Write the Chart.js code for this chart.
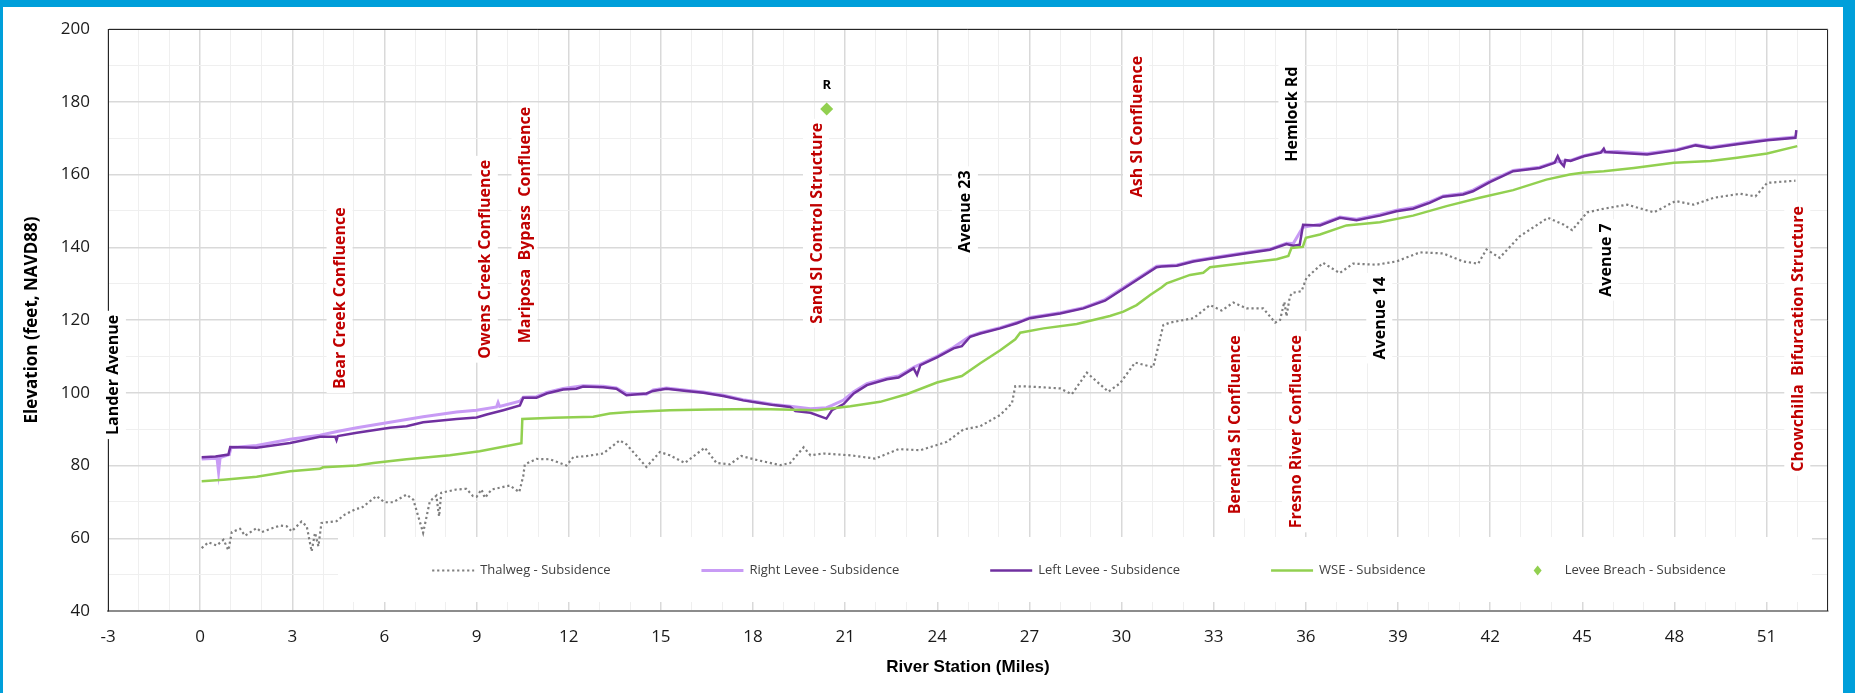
<!DOCTYPE html>
<html>
<head>
<meta charset="utf-8">
<script src="https://cdn.jsdelivr.net/npm/chart.js@4.4.1/dist/chart.umd.min.js"></script>
<style>
  html, body { margin: 0; padding: 0; background: #fff; }
  #wrap { width: 1855px; height: 693px; }
</style>
</head>
<body>
<div id="wrap"><canvas id="profile" width="1855" height="693"></canvas></div>
<script>
// river profile, stations in miles, elevations in feet NAVD88
const thalwegMiles = [0.05, 0.27, 0.54, 0.76, 0.92, 1.03, 1.3, 1.46, 1.84, 2.0, 2.6, 2.82, 2.98, 3.3, 3.47, 3.63, 3.74, 3.85, 3.95, 4.44, 4.71, 5.09, 5.25, 5.74, 6.0, 6.28, 6.72, 6.94, 7.26, 7.48, 7.69, 7.78, 7.85, 8.34, 8.67, 8.88, 9.0, 9.16, 9.27, 9.49, 10.08, 10.39, 10.52, 10.57, 10.95, 11.39, 11.93, 12.15, 12.58, 13.12, 13.66, 13.88, 14.53, 14.97, 15.29, 15.78, 16.43, 16.81, 17.24, 17.62, 18.13, 18.89, 19.21, 19.65, 19.87, 20.3, 21.17, 21.98, 22.74, 23.45, 24.31, 24.85, 25.4, 26.05, 26.43, 26.54, 27.02, 28.0, 28.38, 28.87, 29.57, 29.95, 30.44, 31.03, 31.36, 31.58, 32.34, 32.88, 33.26, 33.64, 34.07, 34.61, 35.0, 35.16, 35.3, 35.37, 35.48, 35.57, 35.86, 36.02, 36.56, 37.1, 37.54, 38.3, 38.95, 39.71, 40.47, 41.12, 41.61, 41.88, 42.31, 42.96, 43.88, 44.4, 44.67, 45.16, 45.7, 46.46, 47.33, 48.04, 48.63, 49.28, 50.15, 50.64, 51.02, 51.94];
const thalwegElev = [57.3, 58.9, 58.0, 59.6, 56.7, 61.7, 62.6, 60.7, 62.8, 61.7, 63.5, 63.3, 61.9, 64.6, 63.3, 56.4, 61.5, 57.8, 64.2, 64.7, 66.5, 68.1, 68.3, 71.6, 69.9, 69.9, 72.0, 70.6, 61.5, 70.2, 71.7, 66.0, 72.5, 73.4, 73.6, 71.6, 71.4, 73.4, 71.1, 73.4, 74.5, 72.7, 77.1, 80.3, 81.8, 81.7, 80.0, 82.3, 82.6, 83.3, 86.9, 85.8, 79.6, 83.7, 82.8, 80.7, 84.9, 80.7, 80.3, 82.6, 81.5, 80.1, 80.7, 85.0, 82.8, 83.3, 82.8, 81.9, 84.5, 84.2, 86.5, 89.9, 90.8, 93.9, 97.1, 101.8, 101.7, 101.2, 99.6, 105.5, 100.3, 102.6, 108.3, 107.0, 118.6, 119.3, 120.5, 124.1, 122.6, 124.8, 123.2, 123.2, 119.3, 120.0, 125.0, 121.0, 126.5, 127.5, 127.9, 131.6, 135.7, 132.9, 135.5, 135.2, 136.1, 138.6, 138.3, 136.1, 135.5, 139.4, 137.1, 143.0, 148.1, 146.2, 144.7, 149.6, 150.6, 151.7, 149.6, 152.7, 151.7, 153.6, 154.7, 154.0, 157.7, 158.3];

const rightLeveeMiles = [0.05, 0.55, 0.6, 0.65, 0.95, 1.0, 1.84, 2.93, 3.9, 4.5, 5.1, 6.18, 7.26, 8.35, 9.0, 9.65, 9.7, 9.75, 10.41, 10.52, 10.95, 11.28, 11.82, 12.47, 13.12, 13.55, 13.88, 14.53, 14.75, 15.18, 15.83, 16.38, 17.03, 17.68, 18.22, 18.67, 19.21, 19.87, 20.39, 20.57, 20.95, 21.28, 21.71, 22.36, 22.74, 23.23, 23.99, 24.53, 25.07, 25.4, 26.05, 26.59, 27.02, 28.0, 28.76, 29.46, 31.14, 31.8, 32.34, 33.0, 33.96, 34.83, 35.37, 35.59, 35.9, 36.46, 37.11, 37.65, 38.41, 38.95, 39.49, 40.03, 40.47, 41.12, 41.44, 41.99, 42.75, 43.61, 44.1, 44.62, 45.05, 45.6, 46.14, 47.11, 48.09, 48.69, 49.18, 50.04, 51.02, 51.94];
const rightLeveeElev = [81.8, 82.0, 78.2, 82.2, 83.0, 84.9, 85.5, 87.2, 88.3, 89.4, 90.4, 91.9, 93.4, 94.7, 95.2, 96.1, 97.3, 96.2, 97.7, 98.8, 98.9, 100.1, 101.2, 101.9, 101.8, 101.3, 99.8, 99.6, 100.8, 101.3, 100.7, 100.2, 99.3, 98.1, 97.4, 96.8, 96.3, 95.6, 95.9, 96.5, 98.0, 100.3, 102.5, 104.0, 104.6, 107.0, 110.0, 112.5, 115.6, 116.5, 117.9, 119.3, 120.7, 122.0, 123.4, 125.6, 134.8, 135.1, 136.3, 137.2, 138.4, 139.5, 141.1, 141.0, 145.5, 146.3, 148.3, 147.7, 149.0, 150.2, 150.9, 152.5, 154.1, 154.8, 155.7, 158.2, 161.1, 162.0, 163.4, 163.9, 165.2, 166.2, 166.3, 165.8, 166.9, 168.2, 167.5, 168.5, 169.6, 170.3];

const leftLeveeMiles = [0.05, 0.5, 0.92, 0.98, 1.84, 2.93, 3.9, 4.4, 4.44, 4.48, 5.1, 6.18, 6.72, 7.26, 8.35, 9.0, 9.33, 9.87, 10.41, 10.52, 10.95, 11.28, 11.82, 12.25, 12.47, 13.12, 13.55, 13.88, 14.53, 14.75, 15.18, 15.83, 16.38, 17.03, 17.68, 18.22, 18.67, 19.21, 19.38, 19.87, 20.39, 20.57, 20.95, 21.28, 21.71, 22.36, 22.74, 23.23, 23.34, 23.45, 23.99, 24.53, 24.8, 25.07, 25.4, 26.05, 26.59, 27.02, 28.0, 28.76, 29.46, 31.14, 31.3, 31.8, 32.34, 33.0, 33.96, 34.83, 35.37, 35.59, 35.8, 35.91, 36.46, 37.11, 37.65, 38.41, 38.95, 39.49, 40.03, 40.47, 41.12, 41.44, 41.99, 42.75, 43.61, 44.1, 44.2, 44.3, 44.4, 44.45, 44.62, 45.05, 45.6, 45.7, 45.75, 46.14, 47.11, 48.09, 48.69, 49.18, 50.04, 51.02, 51.94, 51.97];
const leftLeveeElev = [82.3, 82.5, 83.0, 85.1, 84.9, 86.2, 87.9, 87.9, 87.0, 88.1, 89.0, 90.4, 90.8, 91.9, 92.8, 93.2, 94.0, 95.2, 96.5, 98.6, 98.6, 99.8, 100.9, 101.1, 101.7, 101.5, 101.1, 99.3, 99.8, 100.5, 101.1, 100.5, 100.0, 99.1, 97.9, 97.2, 96.6, 96.1, 95.0, 94.5, 92.9, 95.2, 96.9, 99.8, 102.1, 103.7, 104.2, 106.7, 104.9, 107.6, 109.7, 112.2, 112.8, 115.4, 116.3, 117.7, 119.1, 120.5, 121.8, 123.2, 125.3, 134.5, 134.7, 134.9, 136.1, 137.0, 138.2, 139.3, 140.9, 140.4, 140.7, 146.2, 146.0, 148.1, 147.4, 148.7, 149.9, 150.6, 152.2, 153.9, 154.5, 155.4, 157.9, 160.9, 161.8, 163.2, 165.0, 163.2, 162.3, 164.0, 163.7, 165.0, 166.0, 167.1, 166.2, 166.0, 165.5, 166.7, 168.0, 167.3, 168.3, 169.4, 170.1, 172.2];

const wseMiles = [0.05, 0.76, 1.84, 2.93, 3.9, 4.0, 5.1, 5.64, 6.72, 8.13, 9.1, 10.46, 10.49, 11.5, 12.8, 13.34, 14.0, 15.29, 16.6, 18.2, 19.32, 20.08, 21.17, 22.14, 23.0, 23.99, 24.8, 25.4, 26.05, 26.54, 26.7, 27.46, 28.54, 29.62, 30.06, 30.49, 30.93, 31.31, 31.47, 32.23, 32.66, 32.88, 33.96, 35.05, 35.43, 35.53, 35.9, 36.0, 36.46, 37.32, 38.41, 39.49, 40.58, 41.66, 42.75, 43.83, 44.59, 45.0, 45.7, 46.68, 47.98, 49.18, 50.04, 51.02, 52.0];
const wseElev = [75.7, 76.1, 76.9, 78.4, 79.1, 79.5, 80.0, 80.7, 81.7, 82.8, 83.9, 86.1, 92.8, 93.1, 93.4, 94.3, 94.7, 95.2, 95.4, 95.5, 95.3, 95.2, 96.3, 97.5, 99.6, 102.8, 104.6, 108.1, 111.7, 114.7, 116.5, 117.7, 118.9, 121.1, 122.3, 124.1, 126.9, 129.0, 130.1, 132.4, 133.0, 134.5, 135.6, 136.7, 137.6, 139.8, 140.1, 142.6, 143.5, 146.0, 146.9, 148.7, 151.3, 153.6, 155.7, 158.6, 160.0, 160.5, 160.9, 161.8, 163.2, 163.7, 164.6, 165.8, 167.8];

const breachMiles = [20.4];
const breachElev = [178];
const breachTags = ['R'];

// landmarks along the river; elevation is where the label is centred
const landmarkNames = ['Lander Avenue', 'Bear Creek Confluence', 'Owens Creek Confluence', 'Mariposa  Bypass  Confluence', 'Sand Sl Control Structure', 'Avenue 23', 'Ash Sl Confluence', 'Hemlock Rd', 'Berenda Sl Confluence', 'Fresno River Confluence', 'Avenue 14', 'Avenue 7', 'Chowchilla  Bifurcation Structure'];
const landmarkMiles = [-2.84, 4.54, 9.27, 10.56, 20.05, 24.9, 30.47, 35.53, 33.67, 35.65, 38.39, 45.75, 52.0];
const landmarkElev = [104.9, 126.0, 136.7, 146.1, 146.6, 149.8, 173.2, 176.6, 91.2, 89.3, 120.5, 136.5, 114.8];
const landmarkIsRoad = [true, false, false, false, false, true, false, true, false, false, true, true, false];

const xTicksEvery = 3;
const yTicksEvery = 20;

function pts(xs, ys) {
    return xs.map((x, i) => ({ x: x, y: ys[i] }));
}

const frameBlue = '#009FDA';

const framePlugin = {
    id: 'frame',
    beforeDraw(chart) {
        const ctx = chart.ctx;
        ctx.save();
        ctx.fillStyle = '#fff';
        ctx.fillRect(0, 0, chart.width, chart.height);
        ctx.fillStyle = frameBlue;
        ctx.fillRect(0, 0, chart.width, 7);
        ctx.fillRect(0, 0, 3, chart.height);
        ctx.fillRect(chart.width - 12, 0, 12, chart.height);
        ctx.restore();
    },
    beforeDatasetsDraw(chart) {
        const ctx = chart.ctx;
        const a = chart.chartArea;
        ctx.save();
        ctx.strokeStyle = '#262626';
        ctx.lineWidth = 1;
        ctx.beginPath();
        ctx.moveTo(a.left, a.top + 0.5);
        ctx.lineTo(a.right - 0.5, a.top + 0.5);
        ctx.lineTo(a.right - 0.5, a.bottom);
        ctx.stroke();

        // landmark labels, rotated, on white boxes
        const xs = chart.scales.x, ys = chart.scales.y;
        ctx.font = 'bold 16px "Open Sans"';
        ctx.textAlign = 'center';
        ctx.textBaseline = 'middle';
        landmarkNames.forEach((name, i) => {
            const px = xs.getPixelForValue(landmarkMiles[i]);
            const py = ys.getPixelForValue(landmarkElev[i]);
            const w = ctx.measureText(name).width;
            ctx.save();
            ctx.translate(px, py);
            ctx.rotate(-Math.PI / 2);
            ctx.fillStyle = '#fff';
            ctx.fillRect(-w / 2 - 4, -13, w + 8, 26);
            ctx.fillStyle = landmarkIsRoad[i] ? '#000' : '#C00000';
            ctx.fillText(name, 0, 1);
            ctx.restore();
        });
        ctx.restore();
    },
    afterDatasetsDraw(chart) {
        const ctx = chart.ctx;
        const a = chart.chartArea;
        ctx.save();

        // breach tag
        const bm = chart.getDatasetMeta(4);
        ctx.font = 'bold 13px "Open Sans"';
        ctx.fillStyle = '#000';
        ctx.textAlign = 'center';
        ctx.textBaseline = 'middle';
        bm.data.forEach((p, i) => ctx.fillText(breachTags[i], p.x, p.y - 24));

        // legend inside the plot area
        const boxL = a.left + 230, boxR = a.right - 16;
        const boxT = a.bottom - 74, boxB = a.bottom - 9;
        ctx.fillStyle = '#fff';
        ctx.fillRect(boxL, boxT, boxR - boxL, boxB - boxT);
        ctx.font = '13px "Open Sans"';
        const sym = 42, gap = 6, spacing = 91;
        const sets = chart.data.datasets;
        const widths = sets.map(d => sym + gap + ctx.measureText(d.label).width);
        const total = widths.reduce((s, w) => s + w, 0) + spacing * (sets.length - 1);
        let x = (boxL + boxR) / 2 - total / 2 + 4;
        const cy = (boxT + boxB) / 2 + 1;
        sets.forEach((d, i) => {
            ctx.save();
            if (d.showLine) {
                ctx.strokeStyle = d.borderColor;
                ctx.lineWidth = d.borderWidth;
                ctx.setLineDash(d.borderDash || []);
                ctx.beginPath();
                ctx.moveTo(x, cy);
                ctx.lineTo(x + sym, cy);
                ctx.stroke();
            } else {
                ctx.fillStyle = d.backgroundColor;
                ctx.beginPath();
                ctx.moveTo(x + sym / 2, cy - 5);
                ctx.lineTo(x + sym / 2 + 4, cy);
                ctx.lineTo(x + sym / 2, cy + 5);
                ctx.lineTo(x + sym / 2 - 4, cy);
                ctx.closePath();
                ctx.fill();
            }
            ctx.restore();
            ctx.fillStyle = '#404040';
            ctx.textAlign = 'left';
            ctx.textBaseline = 'middle';
            ctx.fillText(d.label, x + sym + gap, cy);
            x += widths[i] + spacing;
        });
        ctx.restore();
    }
};

const majorGrid = '#D9D9D9';
const minorGrid = '#EFEFEF';

new Chart(document.getElementById('profile'), {
    type: 'scatter',
    data: {
        datasets: [
            {
                label: 'Thalweg - Subsidence',
                data: pts(thalwegMiles, thalwegElev),
                showLine: true,
                borderColor: '#7F7F7F',
                borderWidth: 2.2,
                borderDash: [2.2, 2.8],
                pointRadius: 0,
                order: 5
            },
            {
                label: 'Right Levee - Subsidence',
                data: pts(rightLeveeMiles, rightLeveeElev),
                showLine: true,
                borderColor: '#C89BF5',
                borderWidth: 3,
                pointRadius: 0,
                order: 4
            },
            {
                label: 'Left Levee - Subsidence',
                data: pts(leftLeveeMiles, leftLeveeElev),
                showLine: true,
                borderColor: '#7030A0',
                borderWidth: 2.5,
                pointRadius: 0,
                order: 3
            },
            {
                label: 'WSE - Subsidence',
                data: pts(wseMiles, wseElev),
                showLine: true,
                borderColor: '#92D050',
                borderWidth: 2.5,
                pointRadius: 0,
                order: 2
            },
            {
                label: 'Levee Breach - Subsidence',
                data: pts(breachMiles, breachElev),
                showLine: false,
                pointStyle: 'rectRot',
                pointRadius: 6.5,
                backgroundColor: '#92D050',
                borderColor: '#92D050',
                borderWidth: 0,
                order: 1
            }
        ]
    },
    options: {
        responsive: false,
        animation: false,
        devicePixelRatio: 1,
        layout: { padding: { top: 29, right: 27, bottom: 0, left: 0 } },
        plugins: {
            legend: { display: false },
            tooltip: { enabled: false }
        },
        scales: {
            x: {
                type: 'linear',
                min: -3,
                max: 53,
                afterFit: s => { s.height = 82; },
                ticks: {
                    stepSize: 1,
                    autoSkip: false,
                    maxRotation: 0,
                    padding: 16,
                    color: '#1a1a1a',
                    font: { family: 'Open Sans', size: 17 },
                    callback: v => (v % xTicksEvery === 0 ? String(v) : '')
                },
                grid: {
                    drawTicks: false,
                    color: c => (c.tick && c.tick.value % xTicksEvery === 0 ? majorGrid : minorGrid),
                    lineWidth: c => (c.tick && c.tick.value % xTicksEvery === 0 ? 1.5 : 1)
                },
                border: { color: '#8C8C8C', width: 2 },
                title: {
                    display: true,
                    text: 'River Station (Miles)',
                    color: '#000',
                    font: { family: 'Liberation Sans', size: 17, weight: 'bold' },
                    padding: { top: 0, bottom: 15 }
                }
            },
            y: {
                min: 40,
                max: 200,
                afterFit: s => { s.width = 108; },
                ticks: {
                    stepSize: 10,
                    autoSkip: false,
                    padding: 18,
                    color: '#1a1a1a',
                    font: { family: 'Open Sans', size: 17 },
                    callback: v => (v % yTicksEvery === 0 ? String(v) : '')
                },
                grid: {
                    drawTicks: false,
                    color: c => (c.tick && c.tick.value % yTicksEvery === 0 ? majorGrid : minorGrid),
                    lineWidth: c => (c.tick && c.tick.value % yTicksEvery === 0 ? 1.5 : 1)
                },
                border: { color: '#262626', width: 1 },
                title: {
                    display: true,
                    text: 'Elevation (feet, NAVD88)',
                    color: '#000',
                    font: { family: 'Open Sans', size: 17, weight: 'bold' },
                    padding: { top: 22, bottom: 0 }
                }
            }
        }
    },
    plugins: [framePlugin]
});
</script>
</body>
</html>
